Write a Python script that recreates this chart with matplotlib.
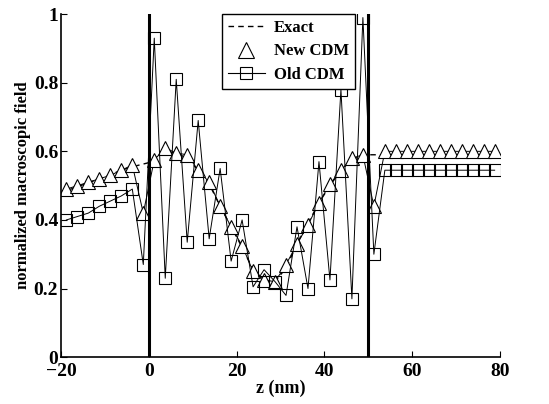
import numpy as np
import matplotlib
matplotlib.use('Agg')
import matplotlib.pyplot as plt
from matplotlib.lines import Line2D

plt.rcParams['font.family'] = ['Liberation Serif', 'DejaVu Serif']
plt.rcParams['font.weight'] = 'bold'
plt.rcParams['axes.unicode_minus'] = True

# sample points (cell centres, 2.5 nm grid)
z_left = [-18.75, -16.25, -13.75, -11.25, -8.75, -6.25, -3.75, -1.25]
z_film = [1.25, 3.75, 6.25, 8.75, 11.25, 13.75, 16.25, 18.75, 21.25, 23.75,
          26.25, 28.75, 31.25, 33.75, 36.25, 38.75, 41.25, 43.75, 46.25, 48.75]
z_right = [51.25, 53.75, 56.25, 58.75, 61.25, 63.75, 66.25, 68.75, 71.25,
           73.75, 76.25, 78.75]

new_left = [0.49, 0.50, 0.51, 0.52, 0.53, 0.545, 0.56, 0.42]
new_film = [0.575, 0.61, 0.595, 0.59, 0.545, 0.51, 0.44, 0.38, 0.325, 0.25,
            0.225, 0.22, 0.27, 0.33, 0.385, 0.45, 0.505, 0.545, 0.58, 0.59]
new_right = [0.44, 0.60, 0.60, 0.60, 0.60, 0.60, 0.60, 0.60, 0.60, 0.60, 0.60, 0.60]

old_left = [0.40, 0.41, 0.42, 0.44, 0.455, 0.47, 0.49, 0.27]
old_film = [0.93, 0.23, 0.81, 0.335, 0.69, 0.345, 0.55, 0.28, 0.40, 0.205,
            0.255, 0.22, 0.18, 0.38, 0.20, 0.57, 0.225, 0.78, 0.17, 0.99]
old_right = [0.30, 0.545, 0.545, 0.545, 0.545, 0.545, 0.545, 0.545, 0.545,
             0.545, 0.545, 0.545]

exact_z = [-20, -18.75, -16.25, -13.75, -11.25, -8.75, -6.25, -3.75, -1.25, 0,
           1.25, 3.75, 6.25, 8.75, 11.25, 13.75, 16.25, 18.75, 21.25, 23.75,
           26.25, 28.75, 31.25, 33.75, 36.25, 38.75, 41.25, 43.75, 46.25, 48.75,
           50, 80]
exact_val = [0.48, 0.485, 0.497, 0.508, 0.52, 0.532, 0.545, 0.555, 0.563, 0.567,
             0.58, 0.60, 0.595, 0.58, 0.545, 0.505, 0.44, 0.38, 0.32, 0.255,
             0.225, 0.22, 0.26, 0.33, 0.39, 0.45, 0.50, 0.545, 0.575, 0.59,
             0.59, 0.59]

z_all = z_left + z_film + z_right
new_all = new_left + new_film + new_right
old_all = old_left + old_film + old_right

fig = plt.figure(figsize=(5.49, 4.04), dpi=100)
ax = fig.add_axes([0.111, 0.116, 0.80, 0.849])

ax.plot(exact_z, exact_val, color='black', linestyle=(0, (4, 3)), lw=1.0)
ax.plot(z_all, new_all, color='black', lw=0.7, marker='^', ms=10,
        mfc='white', mec='black', mew=0.8)
ax.plot(z_all, old_all, color='black', lw=0.7, marker='s', ms=8,
        mfc='none', mec='black', mew=0.8)

# film boundaries
ax.axvline(0, color='black', lw=2.2)
ax.axvline(50, color='black', lw=2.2)

ax.set_xlim(-20, 80)
ax.set_ylim(0, 1)
ax.set_xticks([-20, 0, 20, 40, 60, 80])
ax.set_yticks([0, 0.2, 0.4, 0.6, 0.8, 1])
ax.set_yticklabels(['0', '0.2', '0.4', '0.6', '0.8', '1'])
ax.tick_params(direction='in', length=4, width=0.8, labelsize=14, pad=2)
ax.tick_params(axis='x', pad=4)
for lab in ax.get_xticklabels() + ax.get_yticklabels():
    lab.set_fontweight('bold')
ax.spines['top'].set_visible(False)
ax.spines['right'].set_visible(False)
ax.spines['left'].set_linewidth(1.2)
ax.spines['bottom'].set_linewidth(1.2)

ax.set_xlabel('z (nm)', fontsize=13, fontweight='bold', labelpad=0)
ax.set_ylabel('normalized macroscopic field', fontsize=12, fontweight='bold', labelpad=2)

handles = [
    Line2D([], [], color='black', linestyle=(0, (4, 3)), lw=1.0),
    Line2D([], [], color='black', linestyle='none', marker='^', ms=11,
           mfc='white', mec='black', mew=0.8),
    Line2D([], [], color='black', lw=0.8, marker='s', ms=9,
           mfc='none', mec='black', mew=0.8),
]
leg = ax.legend(handles, ['Exact', 'New CDM', 'Old CDM'], loc='upper left',
                bbox_to_anchor=(0.367, 1.0), borderaxespad=0, fancybox=False,
                framealpha=1, edgecolor='black', fontsize=12, handlelength=2.2,
                handletextpad=0.55, borderpad=0.35, labelspacing=0.45)
leg.get_frame().set_linewidth(1.0)
for t in leg.get_texts():
    t.set_fontweight('bold')

fig.savefig('out.png', dpi=100)
